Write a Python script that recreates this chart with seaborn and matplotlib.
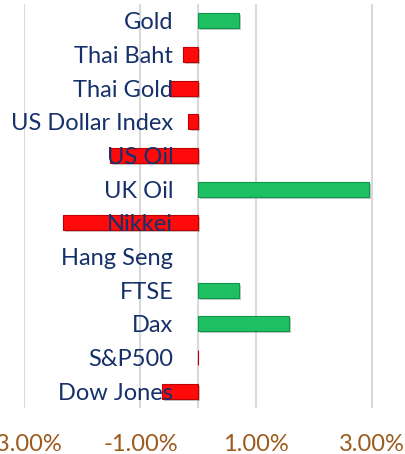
import numpy as np
import pandas as pd
import matplotlib
matplotlib.use('Agg')
import matplotlib.pyplot as plt
import matplotlib.patheffects as pe
import seaborn as sns

categories = ['Gold', 'Thai Baht', 'Thai Gold', 'US Dollar Index', 'US Oil', 'UK Oil',
              'Nikkei', 'Hang Seng', 'FTSE', 'Dax', 'S&P500', 'Dow Jones']
changes = [0.71, -0.27, -0.51, -0.17, -1.52, 2.94, -2.33, 0.0, 0.71, 1.57, -0.01, -0.63]
tick_values = [-3, -1, 1, 3]
tick_labels = ['-3.00%', '-1.00%', '1.00%', '3.00%']

df = pd.DataFrame({'name': categories, 'change': changes})
df['sign'] = np.where(df['change'] >= 0, 'up', 'down')

sns.set_style('white')
plt.rcParams['font.family'] = ['Lato', 'DejaVu Sans']

fig = plt.figure(figsize=(4.06, 4.54), dpi=100)
ax = fig.add_axes([24.5 / 406, 1 - 408 / 454, (401 - 24.5) / 406, (408 - 4) / 454])

sns.barplot(data=df, y='name', x='change', hue='sign', orient='h',
            palette={'up': '#1fc064', 'down': '#ff0a0a'}, width=0.45, saturation=1,
            dodge=False, legend=False, ax=ax, zorder=1)

# darker rim + soft drop shadow, a rough stand-in for the bevelled bars
for bar in ax.patches:
    w = bar.get_width()
    if w == 0:
        bar.set_visible(False)
        continue
    bar.set_edgecolor('#10964a' if w > 0 else '#c00000')
    bar.set_linewidth(0.8)
    bar.set_path_effects([pe.SimplePatchShadow(offset=(1.5, -1.5), shadow_rgbFace='#777777', alpha=0.4),
                          pe.Normal()])

for v in [-3, -1, 0, 1, 3]:
    ax.axvline(v, color='#d9d9d9', lw=1.5, zorder=0)

ax.set_xlim(-3, 3.5)
ax.set_ylim(11.5, -0.5)
ax.set_xticks(tick_values)
ax.set_xticklabels(tick_labels)
ax.set_xlabel('')
ax.set_ylabel('')

ax.spines['left'].set_position(('data', 0))
for sp in ax.spines.values():
    sp.set_visible(False)

ax.tick_params(axis='y', length=0, pad=18, labelsize=17, labelcolor='#15306a')
ax.tick_params(axis='x', length=0, pad=19, labelsize=17, labelcolor='#9c5a1c')
ax.set_axisbelow(False)
ax.yaxis.set_zorder(3)

fig.savefig('out.png', dpi=100)
